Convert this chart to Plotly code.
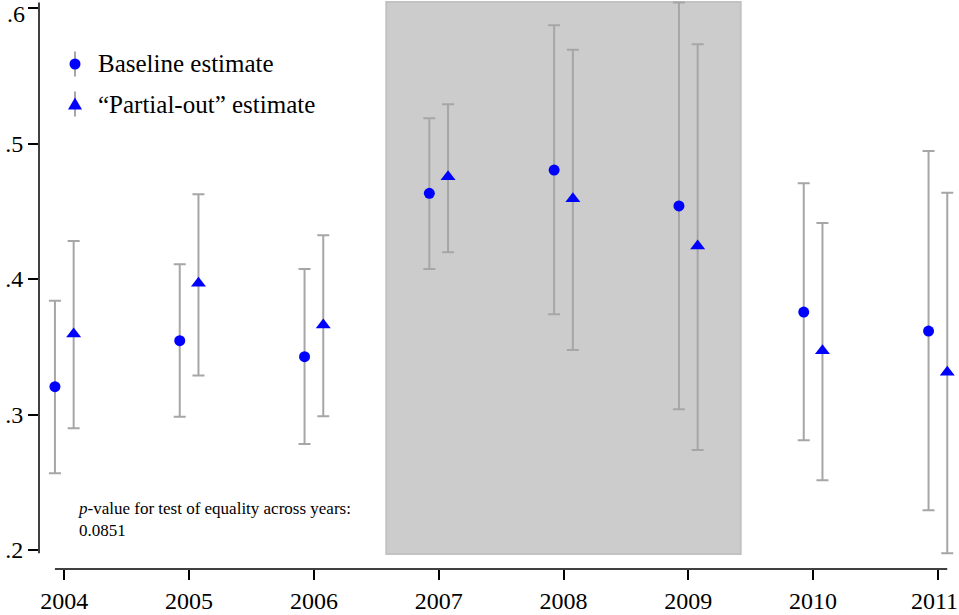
import plotly.graph_objects as go

years = [2004, 2005, 2006, 2007, 2008, 2009, 2010, 2011]
year_labels = ["2004", "2005", "2006", "2007", "2008", "2009", "2010", "2011"]

baseline = [0.3205, 0.3545, 0.3427, 0.4632, 0.4804, 0.4539, 0.3756, 0.3616]
baseline_lo = [0.2566, 0.2984, 0.2782, 0.4074, 0.3740, 0.3038, 0.2810, 0.2293]
baseline_hi = [0.3840, 0.4108, 0.4074, 0.5186, 0.5872, 0.6040, 0.4706, 0.4945]

partial = [0.3594, 0.3968, 0.3660, 0.4755, 0.4593, 0.4244, 0.3471, 0.3311]
partial_lo = [0.2898, 0.3287, 0.2987, 0.4197, 0.3476, 0.2738, 0.2514, 0.1976]
partial_hi = [0.4280, 0.4625, 0.4323, 0.5289, 0.5692, 0.5732, 0.4413, 0.4637]

y_ticks = [0.2, 0.3, 0.4, 0.5, 0.6]
y_tick_labels = [".2", ".3", ".4", ".5", ".6"]

legend_labels = ["Baseline estimate", "\u201cPartial-out\u201d estimate"]
note_text = "<i>p</i>-value for test of equality across years:<br>0.0851"

OFFSET = 0.075
FONT = "Liberation Serif, Tinos, Times New Roman, serif"
BAR_COLOR = "#a6a6a6"
MARK_COLOR = "#0000ff"
TICK_SIZE = 24

fig = go.Figure()

fig.add_trace(go.Scatter(
    x=[y - OFFSET for y in years], y=baseline, mode="markers",
    marker=dict(symbol="circle", size=11, color=MARK_COLOR),
    error_y=dict(type="data", symmetric=False,
                 array=[h - v for h, v in zip(baseline_hi, baseline)],
                 arrayminus=[v - l for l, v in zip(baseline_lo, baseline)],
                 color=BAR_COLOR, thickness=2, width=6),
    showlegend=False, name=legend_labels[0], cliponaxis=False))

fig.add_trace(go.Scatter(
    x=[y + OFFSET for y in years], y=partial, mode="markers",
    marker=dict(symbol="triangle-up", size=13, color=MARK_COLOR),
    error_y=dict(type="data", symmetric=False,
                 array=[h - v for h, v in zip(partial_hi, partial)],
                 arrayminus=[v - l for l, v in zip(partial_lo, partial)],
                 color=BAR_COLOR, thickness=2, width=6),
    showlegend=False, name=legend_labels[1], cliponaxis=False))

# plot area spans 39..959 px horizontally, 0..569 px vertically
PLOT_W = 920.0
px_per_year = 124.8
x_left = 2004 - (64.3 - 39) / px_per_year
x_right = x_left + PLOT_W / px_per_year


def px_x(p):
    return (p - 39) / PLOT_W


def px_y(p):
    return (569 - p) / 569.0


shapes = []
# shaded period
shapes.append(dict(type="rect", xref="x", yref="y", x0=2006.58, x1=2009.42,
                   y0=0.197, y1=0.6044, fillcolor="#cccccc",
                   line=dict(color="#c2c2c2", width=2), layer="below"))
# axis lines (Stata style, spanning data range)
ymin = min(partial_lo + baseline_lo)
ymax = max(partial_hi + baseline_hi)
shapes.append(dict(type="line", xref="paper", yref="y", x0=0, x1=0,
                   y0=ymin, y1=ymax, line=dict(color="black", width=1.5)))
shapes.append(dict(type="line", xref="x", yref="paper", x0=years[0] - OFFSET,
                   x1=years[-1] + OFFSET, y0=0, y1=0,
                   line=dict(color="black", width=1.5)))

# manual legend
lx = px_x(75)
ly = [px_y(64), px_y(104)]
for yy in ly:
    shapes.append(dict(type="line", xref="paper", yref="paper",
                       xsizemode="pixel", ysizemode="pixel",
                       xanchor=lx, yanchor=yy, x0=0, x1=0, y0=-12.5, y1=12.5,
                       line=dict(color=BAR_COLOR, width=2)))
shapes.append(dict(type="circle", xref="paper", yref="paper",
                   xsizemode="pixel", ysizemode="pixel",
                   xanchor=lx, yanchor=ly[0], x0=-5.5, x1=5.5, y0=-5.5, y1=5.5,
                   fillcolor=MARK_COLOR, line=dict(width=0)))
shapes.append(dict(type="path", xref="paper", yref="paper",
                   xsizemode="pixel", ysizemode="pixel",
                   xanchor=lx, yanchor=ly[1],
                   path="M-7,-5.5 L7,-5.5 L0,6.5 Z",
                   fillcolor=MARK_COLOR, line=dict(width=0)))

annotations = []
for yy, lab in zip(ly, legend_labels):
    annotations.append(dict(xref="paper", yref="paper", x=px_x(96), y=yy,
                            xanchor="left", yanchor="middle", text=lab,
                            showarrow=False, font=dict(family=FONT, size=25, color="black")))
annotations.append(dict(xref="paper", yref="paper", x=px_x(76), y=px_y(497),
                        xanchor="left", yanchor="top", align="left",
                        text=note_text, showarrow=False,
                        font=dict(family=FONT, size=17, color="black")))

# edge tick labels placed so they stay inside the page
x_ticktext = list(year_labels)
x_ticktext[-1] = ""
annotations.append(dict(xref="paper", yref="paper", x=1, y=px_y(601),
                        xanchor="right", yanchor="middle", text=year_labels[-1],
                        showarrow=False, borderpad=0,
                        font=dict(family=FONT, size=TICK_SIZE, color="black")))
y_ticktext = list(y_tick_labels)
y_ticktext[-1] = ""
annotations.append(dict(xref="paper", yref="paper", x=px_x(26), y=1,
                        xanchor="right", yanchor="top", text=y_tick_labels[-1],
                        showarrow=False, borderpad=0,
                        font=dict(family=FONT, size=TICK_SIZE, color="black")))

fig.update_layout(
    width=959, height=615,
    margin=dict(l=39, r=0, t=0, b=46, pad=0),
    paper_bgcolor="white", plot_bgcolor="white",
    font=dict(family=FONT, size=TICK_SIZE, color="black"),
    shapes=shapes, annotations=annotations,
    xaxis=dict(range=[x_left, x_right], tickvals=years, ticktext=x_ticktext,
               showgrid=False, zeroline=False, showline=False,
               ticks="outside", ticklen=10, tickwidth=1.5, tickcolor="black",
               automargin=False, ticklabeloverflow="allow",
               tickfont=dict(family=FONT, size=TICK_SIZE)),
    yaxis=dict(range=[0.18598, 0.6059], tickvals=y_ticks, ticktext=y_ticktext,
               showgrid=False, zeroline=False, showline=False,
               ticks="outside", ticklen=10, tickwidth=1.5, tickcolor="black",
               automargin=False, ticklabeloverflow="allow",
               tickfont=dict(family=FONT, size=TICK_SIZE)),
)

fig.write_html("out.html", config={"displayModeBar": False},
               post_script="document.body.style.margin='0';document.body.style.overflow='hidden';")
